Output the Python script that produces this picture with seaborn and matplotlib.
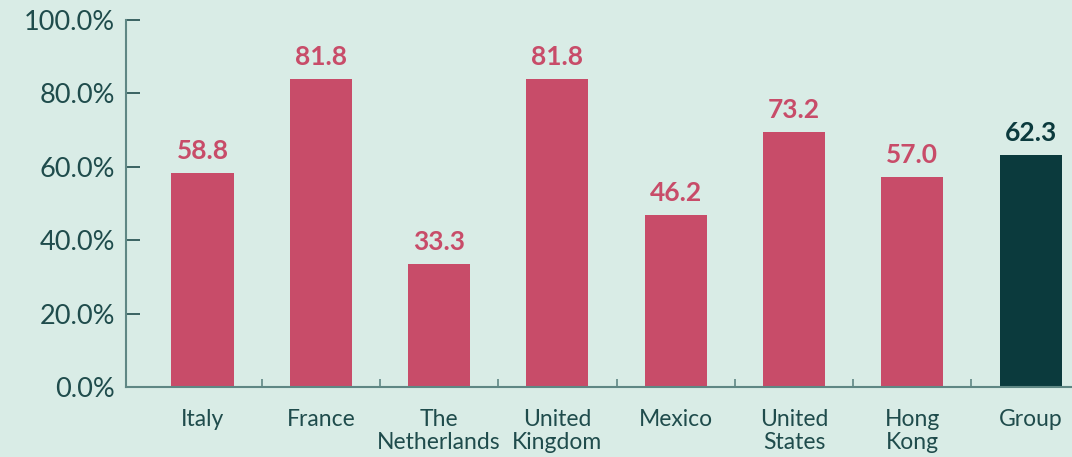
import numpy as np
import pandas as pd
import matplotlib.pyplot as plt
import seaborn as sns
from matplotlib.ticker import FixedLocator, PercentFormatter

# Data
countries = ["Italy", "France", "The\nNetherlands", "United\nKingdom", "Mexico",
             "United\nStates", "Hong\nKong", "Group"]
bar_values = [58.3, 83.9, 33.5, 83.9, 46.9, 69.5, 57.2, 63.2]
value_labels = ["58.8", "81.8", "33.3", "81.8", "46.2", "73.2", "57.0", "62.3"]

BG = "#d9ece6"
PINK = "#c84c69"
DARK = "#0b3a3d"
AXIS = "#5f8784"
TEXT = "#1f4c4c"

colors = [PINK] * (len(countries) - 1) + [DARK]
label_colors = colors

sns.set_theme(style="white")
plt.rcParams["font.family"] = ["Lato", "DejaVu Sans"]

df = pd.DataFrame({"country": countries, "value": bar_values})

fig = plt.figure(figsize=(10.72, 4.57), dpi=100, facecolor=BG)
ax = fig.add_axes([126 / 1072, 1 - 387 / 457, 1 - 126 / 1072, 367 / 457])
ax.set_facecolor(BG)

sns.barplot(data=df, x="country", y="value", hue="country", palette=colors,
            legend=False, width=0.525, saturation=1, linewidth=0, ax=ax)

for i, (v, lab) in enumerate(zip(bar_values, value_labels)):
    ax.annotate(lab, (i, v), xytext=(0, 7), textcoords="offset points",
                ha="center", va="bottom", fontsize=19, fontweight="bold",
                color=label_colors[i])

ax.set_ylim(0, 100)
ax.set_xlim(-0.647, len(countries) - 1 + 0.35)
ax.set_yticks([0, 20, 40, 60, 80, 100])
ax.yaxis.set_major_formatter(PercentFormatter(decimals=1))
ax.tick_params(axis="y", direction="in", length=10, width=1.2, color=TEXT,
               labelsize=19.5, labelcolor=TEXT, pad=8, left=True)

ax.xaxis.set_minor_locator(FixedLocator(np.arange(0.5, len(countries) - 1, 1)))
ax.tick_params(axis="x", which="major", length=0, labelsize=16.5, labelcolor=TEXT, pad=16)
ax.tick_params(axis="x", which="minor", direction="in", length=6, width=1.2,
               color=AXIS, bottom=True)
for t in ax.get_xticklabels():
    t.set_linespacing(1.1)

ax.set_xlabel("")
ax.set_ylabel("")
for side in ["top", "right"]:
    ax.spines[side].set_visible(False)
for side in ["left", "bottom"]:
    ax.spines[side].set_color(AXIS)
    ax.spines[side].set_linewidth(1.5)

fig.savefig("out.png", dpi=100, facecolor=BG)
